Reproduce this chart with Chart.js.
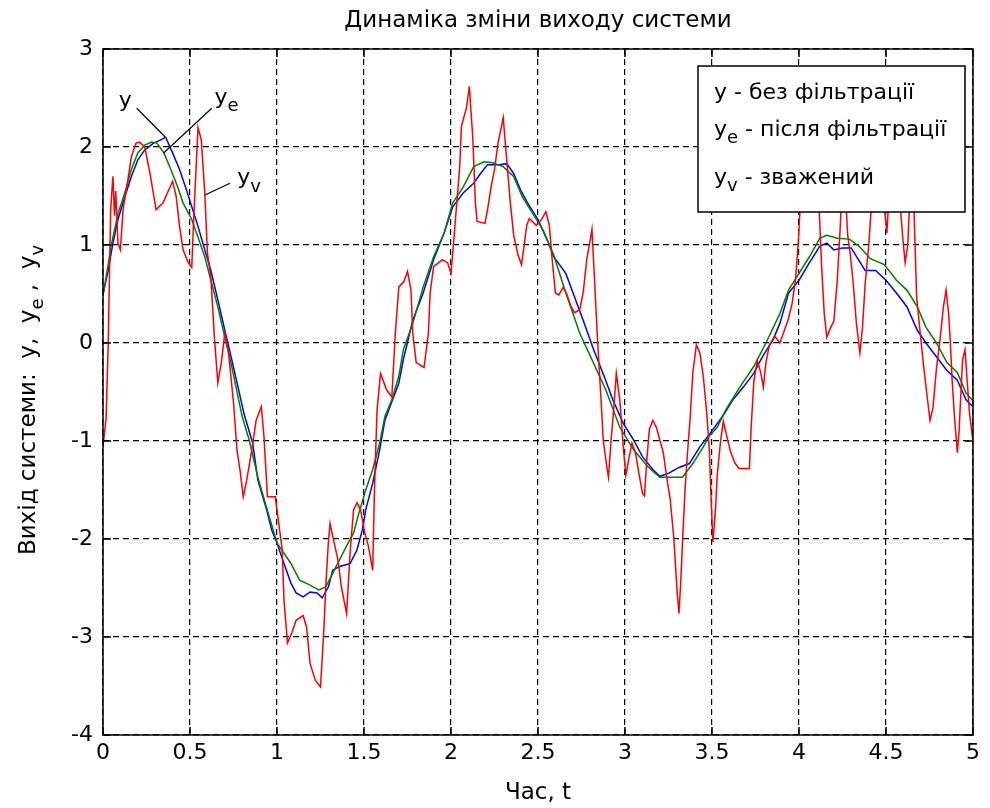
<!DOCTYPE html>
<html>
<head>
<meta charset="utf-8">
<script src="https://cdn.jsdelivr.net/npm/chart.js@4/dist/chart.umd.min.js"></script>
<style>
  html, body { margin: 0; padding: 0; background: #fff; }
  #wrap { width: 990px; height: 808px; }
</style>
</head>
<body>
<div id="wrap"><canvas id="c" width="990" height="808"></canvas></div>
<script>
// ---- data -------------------------------------------------------------
// y_v : weighted output (red)
const redT = [0.000,0.018,0.030,0.044,0.057,0.066,0.073,0.086,0.100,0.115,0.134,0.163,0.190,0.210,0.240,0.270,0.305,0.345,0.370,0.400,0.420,0.440,0.460,0.490,0.510,0.522,0.546,0.565,0.585,0.600,0.620,0.640,0.660,0.680,0.700,0.720,0.750,0.770,0.790,0.806,0.826,0.855,0.880,0.910,0.925,0.945,0.990,1.010,1.030,1.040,1.060,1.085,1.110,1.150,1.170,1.190,1.220,1.250,1.270,1.280,1.295,1.305,1.320,1.350,1.370,1.400,1.420,1.440,1.460,1.480,1.505,1.525,1.550,1.560,1.575,1.595,1.630,1.660,1.680,1.700,1.730,1.750,1.770,1.780,1.800,1.845,1.870,1.880,1.900,1.950,1.980,2.000,2.010,2.030,2.050,2.060,2.090,2.105,2.125,2.140,2.150,2.195,2.210,2.230,2.250,2.270,2.290,2.300,2.320,2.340,2.360,2.385,2.405,2.420,2.435,2.450,2.490,2.520,2.545,2.565,2.580,2.600,2.620,2.645,2.665,2.690,2.710,2.740,2.760,2.780,2.800,2.810,2.825,2.840,2.860,2.875,2.895,2.905,2.920,2.935,2.950,2.970,2.990,3.005,3.020,3.040,3.060,3.080,3.100,3.112,3.125,3.140,3.160,3.180,3.200,3.220,3.240,3.260,3.280,3.300,3.310,3.320,3.330,3.345,3.360,3.375,3.390,3.410,3.430,3.450,3.470,3.485,3.495,3.505,3.520,3.530,3.550,3.565,3.585,3.605,3.630,3.655,3.715,3.725,3.740,3.760,3.780,3.795,3.810,3.830,3.860,3.890,3.910,3.940,3.960,3.980,3.995,4.010,4.030,4.060,4.090,4.115,4.130,4.145,4.160,4.180,4.200,4.220,4.236,4.250,4.265,4.280,4.295,4.310,4.330,4.350,4.365,4.380,4.400,4.420,4.445,4.475,4.495,4.505,4.520,4.550,4.580,4.595,4.610,4.625,4.640,4.650,4.660,4.676,4.695,4.714,4.734,4.753,4.770,4.790,4.810,4.830,4.845,4.860,4.870,4.880,4.895,4.910,4.920,4.928,4.940,4.954,4.965,4.980,5.000];
const redY = [-1.06,-0.76,0.00,1.36,1.70,1.30,1.55,1.02,0.95,1.36,1.56,1.90,2.04,2.05,2.00,1.73,1.36,1.43,1.53,1.65,1.50,1.19,0.95,0.82,0.77,1.30,2.20,2.07,1.53,0.92,0.67,0.06,-0.41,-0.20,0.10,-0.07,-0.61,-1.09,-1.33,-1.57,-1.40,-1.09,-0.79,-0.65,-0.95,-1.57,-1.57,-1.84,-2.11,-2.62,-3.06,-2.96,-2.83,-2.78,-2.90,-3.27,-3.44,-3.51,-2.90,-2.49,-2.04,-1.84,-1.97,-2.21,-2.49,-2.76,-2.14,-1.70,-1.63,-1.70,-1.94,-2.07,-2.32,-1.50,-0.68,-0.31,-0.48,-0.55,0.10,0.57,0.63,0.73,0.54,0.10,-0.20,-0.25,0.10,0.51,0.78,0.85,0.82,0.71,0.92,1.36,1.80,2.21,2.41,2.62,2.10,1.43,1.24,1.22,1.36,1.59,1.77,2.04,2.21,2.30,1.87,1.45,1.10,0.90,0.80,0.99,1.20,1.27,1.20,1.26,1.34,1.20,0.88,0.51,0.49,0.57,0.50,0.37,0.31,0.34,0.52,0.85,1.05,1.16,0.64,0.10,-0.51,-0.99,-1.26,-1.37,-0.99,-0.68,-0.31,-0.58,-1.06,-1.35,-1.20,-1.02,-1.12,-1.33,-1.53,-1.56,-1.20,-0.88,-0.79,-0.86,-0.99,-1.12,-1.37,-1.60,-1.98,-2.55,-2.76,-2.45,-2.05,-1.50,-1.10,-0.75,-0.30,-0.02,-0.10,-0.34,-0.72,-1.10,-1.60,-2.03,-1.70,-1.35,-0.99,-0.80,-0.95,-1.10,-1.22,-1.28,-1.28,-0.86,-0.40,-0.18,-0.30,-0.45,-0.20,-0.02,0.07,0.00,0.10,0.25,0.40,0.65,1.00,1.50,1.95,2.10,1.80,1.40,0.78,0.30,0.06,0.15,0.22,0.64,1.15,1.70,1.60,1.10,0.90,0.64,0.20,-0.10,0.16,0.60,0.98,1.50,2.00,1.70,1.30,1.12,1.60,1.95,1.45,1.10,0.82,1.00,1.60,1.75,1.40,0.47,0.13,-0.20,-0.51,-0.79,-0.66,-0.26,0.03,0.37,0.54,0.30,0.00,-0.38,-0.79,-1.12,-0.90,-0.60,-0.17,-0.07,-0.35,-0.72,-1.00];

// y : output without filtering (blue)
const blueT = [0.000,0.030,0.057,0.086,0.125,0.163,0.200,0.240,0.290,0.330,0.360,0.400,0.440,0.480,0.510,0.546,0.585,0.620,0.660,0.700,0.740,0.776,0.810,0.860,0.890,0.940,0.970,1.000,1.040,1.080,1.110,1.150,1.190,1.230,1.260,1.295,1.320,1.360,1.420,1.460,1.490,1.510,1.550,1.590,1.620,1.660,1.700,1.726,1.780,1.840,1.900,1.960,2.010,2.070,2.130,2.170,2.210,2.240,2.280,2.320,2.360,2.400,2.440,2.500,2.560,2.590,2.660,2.710,2.760,2.820,2.880,2.930,2.990,3.050,3.100,3.160,3.200,3.250,3.310,3.370,3.430,3.490,3.560,3.620,3.680,3.740,3.790,3.850,3.890,3.940,4.000,4.060,4.120,4.160,4.200,4.250,4.300,4.380,4.440,4.500,4.560,4.620,4.680,4.730,4.790,4.850,4.910,4.960,5.000];
const blueY = [0.50,0.74,1.02,1.26,1.49,1.70,1.87,1.97,2.04,2.07,2.10,1.94,1.77,1.56,1.39,1.19,0.95,0.74,0.44,0.13,-0.17,-0.45,-0.72,-1.02,-1.40,-1.70,-1.91,-2.04,-2.25,-2.45,-2.55,-2.59,-2.54,-2.55,-2.60,-2.49,-2.32,-2.28,-2.25,-2.11,-1.91,-1.70,-1.43,-1.09,-0.79,-0.60,-0.41,-0.17,0.23,0.51,0.85,1.12,1.39,1.53,1.63,1.73,1.82,1.82,1.82,1.83,1.73,1.56,1.43,1.26,1.02,0.88,0.71,0.47,0.23,-0.07,-0.34,-0.58,-0.82,-0.99,-1.16,-1.29,-1.36,-1.33,-1.27,-1.23,-1.06,-0.92,-0.75,-0.58,-0.45,-0.31,-0.14,0.03,0.20,0.51,0.64,0.82,0.99,1.02,0.95,0.97,0.97,0.74,0.74,0.64,0.51,0.37,0.13,0.00,-0.14,-0.28,-0.38,-0.58,-0.65];

// y_e : output after filtering (green)
const greenT = [0.000,0.050,0.086,0.125,0.163,0.200,0.240,0.280,0.310,0.350,0.390,0.430,0.460,0.510,0.546,0.585,0.620,0.660,0.700,0.740,0.776,0.800,0.840,0.890,0.950,1.000,1.080,1.130,1.190,1.240,1.280,1.320,1.360,1.400,1.440,1.470,1.510,1.550,1.590,1.620,1.660,1.700,1.726,1.780,1.840,1.900,1.960,2.010,2.070,2.130,2.190,2.240,2.300,2.360,2.410,2.470,2.530,2.590,2.660,2.740,2.810,2.890,2.970,3.050,3.130,3.200,3.280,3.330,3.390,3.450,3.480,3.530,3.580,3.660,3.740,3.810,3.890,3.940,4.000,4.060,4.120,4.160,4.220,4.290,4.350,4.410,4.490,4.560,4.620,4.680,4.730,4.790,4.850,4.910,4.960,5.000];
const greenY = [0.48,1.02,1.32,1.53,1.77,1.94,2.02,2.05,2.04,1.94,1.77,1.59,1.43,1.26,1.08,0.88,0.64,0.37,0.06,-0.24,-0.55,-0.75,-0.99,-1.37,-1.74,-2.04,-2.25,-2.42,-2.47,-2.52,-2.49,-2.35,-2.21,-2.07,-1.94,-1.74,-1.50,-1.29,-1.02,-0.75,-0.58,-0.34,-0.07,0.20,0.57,0.88,1.12,1.43,1.59,1.80,1.85,1.84,1.80,1.70,1.49,1.32,1.15,0.90,0.51,0.10,-0.17,-0.48,-0.86,-1.09,-1.26,-1.37,-1.37,-1.37,-1.23,-1.06,-0.96,-0.86,-0.68,-0.45,-0.24,0.00,0.30,0.54,0.71,0.88,1.07,1.10,1.07,1.06,0.98,0.86,0.80,0.64,0.54,0.37,0.16,0.00,-0.20,-0.30,-0.51,-0.59];

// axis ticks
const xTicks = [0, 0.5, 1, 1.5, 2, 2.5, 3, 3.5, 4, 4.5, 5];
const yTicks = [-4, -3, -2, -1, 0, 1, 2, 3];

// texts ([text, isSubscript] runs)
const titleText = 'Динаміка зміни виходу системи';
const xLabel = 'Час, t';
const yLabel = [['Вихід системи:  y,  y', 0], ['e', 1], [' ,  y', 0], ['v', 1]];
const legendLines = [
  [['y - без фільтрації', 0]],
  [['y', 0], ['e', 1], [' - після фільтрації', 0]],
  [['y', 0], ['v', 1], [' - зважений', 0]]
];
// curve call-outs: label runs, label anchor (t, y), leader line ends (t, y)
const callouts = [
  { runs: [['y', 0]],           at: [0.128, 2.47], line: [[0.194, 2.395], [0.356, 2.105]] },
  { runs: [['y', 0], ['e', 1]], at: [0.710, 2.50], line: [[0.625, 2.395], [0.347, 1.936]] },
  { runs: [['y', 0], ['v', 1]], at: [0.840, 1.68], line: [[0.730, 1.630], [0.586, 1.510]] }
];

// ---- drawing -----------------------------------------------------------
const FONT = '"DejaVu Sans", sans-serif';
const FS = 22;       // legend, call-outs, ticks
const FS_TITLE = 23; // title and axis labels
const LW = 1.5;

const pts = (ts, ys) => ts.map((t, i) => ({ x: t, y: ys[i] }));

function runsWidth(ctx, runs, size) {
  let w = 0;
  runs.forEach(([s, sub]) => {
    ctx.font = (sub ? Math.round(size * 0.8) : size) + 'px ' + FONT;
    w += ctx.measureText(s).width;
  });
  return w;
}
function drawRuns(ctx, runs, x, y, size, align) {
  const w = runsWidth(ctx, runs, size);
  let cx = align === 'center' ? x - w / 2 : x;
  ctx.textAlign = 'left';
  ctx.textBaseline = 'middle';
  runs.forEach(([s, sub]) => {
    const fs = sub ? Math.round(size * 0.8) : size;
    ctx.font = fs + 'px ' + FONT;
    ctx.fillText(s, cx, y + (sub ? size * 0.4 : 0));
    cx += ctx.measureText(s).width;
  });
}

const decorations = {
  id: 'decorations',
  afterDraw(chart) {
    const { ctx, chartArea: a, scales: { x, y } } = chart;
    ctx.save();
    ctx.fillStyle = '#000';
    ctx.strokeStyle = '#000';
    ctx.lineWidth = LW;

    // axes box
    ctx.strokeRect(Math.round(a.left), Math.round(a.top),
                   Math.round(a.right - a.left), Math.round(a.bottom - a.top));

    // inward tick marks on all four sides
    const TL = 8;
    ctx.beginPath();
    xTicks.forEach(v => {
      const px = Math.round(x.getPixelForValue(v));
      ctx.moveTo(px, a.bottom); ctx.lineTo(px, a.bottom - TL);
      ctx.moveTo(px, a.top); ctx.lineTo(px, a.top + TL);
    });
    yTicks.forEach(v => {
      const py = Math.round(y.getPixelForValue(v));
      ctx.moveTo(a.left, py); ctx.lineTo(a.left + TL, py);
      ctx.moveTo(a.right, py); ctx.lineTo(a.right - TL, py);
    });
    ctx.stroke();

    // call-outs naming the curves
    ctx.lineWidth = 1.2;
    callouts.forEach(c => {
      ctx.beginPath();
      ctx.moveTo(x.getPixelForValue(c.line[0][0]), y.getPixelForValue(c.line[0][1]));
      ctx.lineTo(x.getPixelForValue(c.line[1][0]), y.getPixelForValue(c.line[1][1]));
      ctx.stroke();
      drawRuns(ctx, c.runs, x.getPixelForValue(c.at[0]), y.getPixelForValue(c.at[1]), FS, 'center');
    });

    // legend box (text only)
    ctx.lineWidth = LW;
    const lw = 267, lh = 146;
    const lx = Math.round(a.right) - 8 - lw, ly = Math.round(a.top) + 17;
    ctx.fillStyle = '#fff';
    ctx.fillRect(lx, ly, lw, lh);
    ctx.strokeRect(lx, ly, lw, lh);
    ctx.fillStyle = '#000';
    const offs = [27, 64, 112];
    legendLines.forEach((runs, i) => drawRuns(ctx, runs, lx + 16, ly + offs[i], FS, 'left'));

    // title and axis labels
    const cx = (a.left + a.right) / 2;
    drawRuns(ctx, [[titleText, 0]], cx, 21, FS_TITLE, 'center');
    drawRuns(ctx, [[xLabel, 0]], cx, 793, FS_TITLE, 'center');
    ctx.translate(29, (a.top + a.bottom) / 2 + 8);
    ctx.rotate(-Math.PI / 2);
    drawRuns(ctx, yLabel, 0, 0, FS_TITLE, 'center');
    ctx.restore();
  }
};

const tickFont = { family: FONT, size: FS };
const gridOpts = { color: '#000', lineWidth: 1.2, drawTicks: false };

new Chart(document.getElementById('c'), {
  type: 'line',
  data: {
    datasets: [
      { label: 'yv', data: pts(redT, redY),     borderColor: '#ff0000', order: 0 },
      { label: 'ye', data: pts(greenT, greenY), borderColor: '#008000', order: 1 },
      { label: 'y',  data: pts(blueT, blueY),   borderColor: '#0000ff', order: 2 }
    ]
  },
  options: {
    responsive: false,
    animation: false,
    events: [],
    datasets: { line: { borderWidth: LW, pointRadius: 0, tension: 0, fill: false } },
    layout: { padding: { top: 49, right: 17, bottom: 0, left: 0 } },
    plugins: { legend: { display: false }, tooltip: { enabled: false }, title: { display: false } },
    scales: {
      x: {
        type: 'linear', min: 0, max: 5,
        afterBuildTicks: s => { s.ticks = xTicks.map(v => ({ value: v })); },
        afterFit: s => { s.height = 73; },
        grid: gridOpts,
        border: { display: false, dash: [6, 4] },
        ticks: { color: '#000', font: tickFont, padding: 5, autoSkip: false, maxRotation: 0, callback: v => String(v) }
      },
      y: {
        type: 'linear', min: -4, max: 3,
        afterBuildTicks: s => { s.ticks = yTicks.map(v => ({ value: v })); },
        afterFit: s => { s.width = 103; },
        grid: gridOpts,
        border: { display: false, dash: [6, 4] },
        ticks: { color: '#000', font: tickFont, padding: 10, autoSkip: false, callback: v => String(v) }
      }
    }
  },
  plugins: [decorations]
});
</script>
</body>
</html>
